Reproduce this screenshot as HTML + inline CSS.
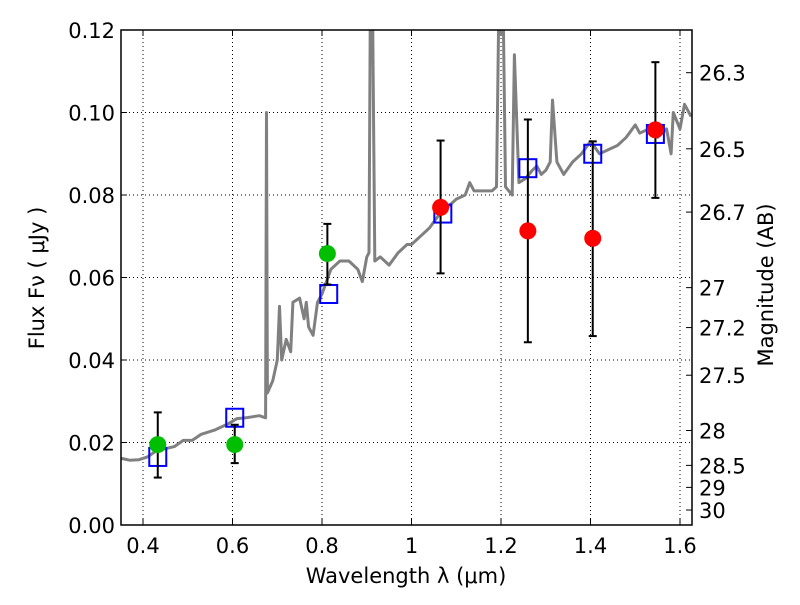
<!DOCTYPE html>
<html><head><meta charset="utf-8"><style>
body{margin:0;background:#fff;}
svg text{font-family:"DejaVu Sans","Liberation Sans",sans-serif;}
</style></head><body>
<svg id="c" width="800" height="600" xmlns="http://www.w3.org/2000/svg"></svg>
<script>
const specWl=[0.35,0.37,0.39,0.41,0.43,0.45,0.47,0.49,0.51,0.53,0.56,0.59,0.61,0.63,0.66,0.674,0.676,0.678,0.682,0.69,0.70,0.705,0.71,0.72,0.73,0.735,0.75,0.76,0.765,0.77,0.78,0.79,0.80,0.82,0.84,0.86,0.88,0.89,0.90,0.905,0.908,0.913,0.918,0.93,0.95,0.97,0.99,1.0,1.02,1.04,1.06,1.08,1.1,1.12,1.13,1.14,1.16,1.18,1.19,1.195,1.205,1.21,1.225,1.23,1.24,1.255,1.27,1.28,1.29,1.30,1.31,1.315,1.325,1.34,1.36,1.38,1.40,1.42,1.44,1.46,1.48,1.50,1.51,1.53,1.55,1.57,1.58,1.585,1.60,1.61,1.625];
const specFlux=[0.0162,0.0157,0.0158,0.0165,0.018,0.0185,0.019,0.0205,0.0205,0.022,0.023,0.0245,0.0258,0.026,0.0265,0.026,0.100,0.032,0.033,0.035,0.040,0.053,0.040,0.045,0.042,0.054,0.055,0.050,0.054,0.048,0.046,0.054,0.056,0.062,0.064,0.064,0.062,0.059,0.065,0.066,0.125,0.125,0.064,0.065,0.063,0.066,0.068,0.068,0.070,0.072,0.075,0.077,0.079,0.080,0.083,0.081,0.081,0.081,0.082,0.125,0.125,0.082,0.080,0.114,0.083,0.084,0.086,0.087,0.085,0.086,0.088,0.103,0.088,0.085,0.088,0.090,0.093,0.090,0.091,0.092,0.094,0.097,0.095,0.096,0.094,0.096,0.090,0.100,0.096,0.102,0.099];
const greenWl=[0.433,0.605,0.812];
const greenFlux=[0.0195,0.0195,0.0658];
const redWl=[1.065,1.26,1.405,1.545];
const redFlux=[0.077,0.0713,0.0695,0.0958];
const errWl=[0.433,0.605,0.812,1.065,1.26,1.405,1.545];
const errLo=[0.0115,0.015,0.0583,0.061,0.0443,0.0458,0.0793];
const errHi=[0.0273,0.0243,0.073,0.0932,0.0983,0.093,0.1122];
const boxWl=[0.433,0.605,0.815,1.07,1.26,1.405,1.545];
const boxFlux=[0.0165,0.026,0.056,0.0755,0.0865,0.090,0.0948];
const xTicks=[0.4,0.6,0.8,1,1.2,1.4,1.6];
const xTickLabels=["0.4","0.6","0.8","1","1.2","1.4","1.6"];
const yTicks=[0,0.02,0.04,0.06,0.08,0.10,0.12];
const yTickLabels=["0.00","0.02","0.04","0.06","0.08","0.10","0.12"];
const magTicks=[26.3,26.5,26.7,27,27.2,27.5,28,28.5,29,30];
const magLabels=["26.3","26.5","26.7","27","27.2","27.5","28","28.5","29","30"];

const L=121,R=692,T=30,B=525;
const X=v=>143+(v-0.4)*447.5;
const Y=v=>B-v*4125;
const svg=document.getElementById('c');
const NS="http://www.w3.org/2000/svg";
function mk(tag,attrs,parent){const e=document.createElementNS(NS,tag);for(const k in attrs)e.setAttribute(k,attrs[k]);(parent||svg).appendChild(e);return e;}
const defs=mk('defs',{});const cp=mk('clipPath',{id:'clip'},defs);mk('rect',{x:L,y:T,width:R-L,height:B-T},cp);
const grid=mk('g',{'stroke':'#000','stroke-dasharray':'1,3','stroke-width':'1'});

xTicks.forEach(t=>{mk('line',{x1:X(t),x2:X(t),y1:T,y2:B},grid);});
yTicks.forEach(t=>{mk('line',{x1:L,x2:R,y1:Y(t),y2:Y(t)},grid);});
const plot=mk('g',{'clip-path':'url(#clip)'});
let d=specWl.map((w,i)=>(i?'L':'M')+X(w).toFixed(1)+','+Y(specFlux[i]).toFixed(1)).join('');
const sp=mk('path',{d:d,fill:'none',stroke:'#808080','stroke-width':3,'stroke-linejoin':'round'},plot);

boxWl.forEach((w,i)=>{const r=mk('rect',{x:X(w)-8.5,y:Y(boxFlux[i])-9,width:17,height:18,fill:'none',stroke:'#0000ff','stroke-width':2},plot);
});
errWl.forEach((w,i)=>{const g=mk('g',{stroke:'#000','stroke-width':2},plot);

mk('line',{x1:X(w),x2:X(w),y1:Y(errLo[i]),y2:Y(errHi[i])},g);
mk('line',{x1:X(w)-4,x2:X(w)+4,y1:Y(errLo[i]),y2:Y(errLo[i])},g);
mk('line',{x1:X(w)-4,x2:X(w)+4,y1:Y(errHi[i]),y2:Y(errHi[i])},g);});
greenWl.forEach((w,i)=>{const c=mk('circle',{cx:X(w),cy:Y(greenFlux[i]),r:8.5,fill:'#00bf00'},plot);
});
redWl.forEach((w,i)=>{const c=mk('circle',{cx:X(w),cy:Y(redFlux[i]),r:8.5,fill:'#ff0000'},plot);
});
const fr=mk('rect',{x:L,y:T,width:R-L,height:B-T,fill:'none',stroke:'#000','stroke-width':1.5});

xTicks.forEach((t,i)=>{mk('line',{x1:X(t),x2:X(t),y1:B,y2:B-6,stroke:'#000'});mk('line',{x1:X(t),x2:X(t),y1:T,y2:T+6,stroke:'#000'});
const tx=mk('text',{x:X(t),y:B+28,'font-size':21,'text-anchor':'middle'});tx.textContent=xTickLabels[i];
});
yTicks.forEach((t,i)=>{mk('line',{x1:L,x2:L+6,y1:Y(t),y2:Y(t),stroke:'#000'});
const tx=mk('text',{x:L-6,y:Y(t)+8,'font-size':21,'text-anchor':'end'});tx.textContent=yTickLabels[i];
});
magTicks.forEach((m,i)=>{const f=Math.pow(10,(23.9-m)/2.5);const y=Y(f);
mk('line',{x1:R-6,x2:R,y1:y,y2:y,stroke:'#000'});
const tx=mk('text',{x:R+7,y:y+8,'font-size':21});tx.textContent=magLabels[i];
});
const xl=mk('text',{x:406,y:583,'font-size':21,'text-anchor':'middle'});xl.textContent='Wavelength  λ (μm)';

const yl=mk('text',{x:44,y:278,'font-size':21,'text-anchor':'middle',transform:'rotate(-90 44 278)'});yl.textContent='Flux  Fν  ( μJy )';

const ml=mk('text',{x:773,y:285,'font-size':21,'text-anchor':'middle',transform:'rotate(-90 773 285)'});ml.textContent='Magnitude (AB)';

</script>
</body></html>
